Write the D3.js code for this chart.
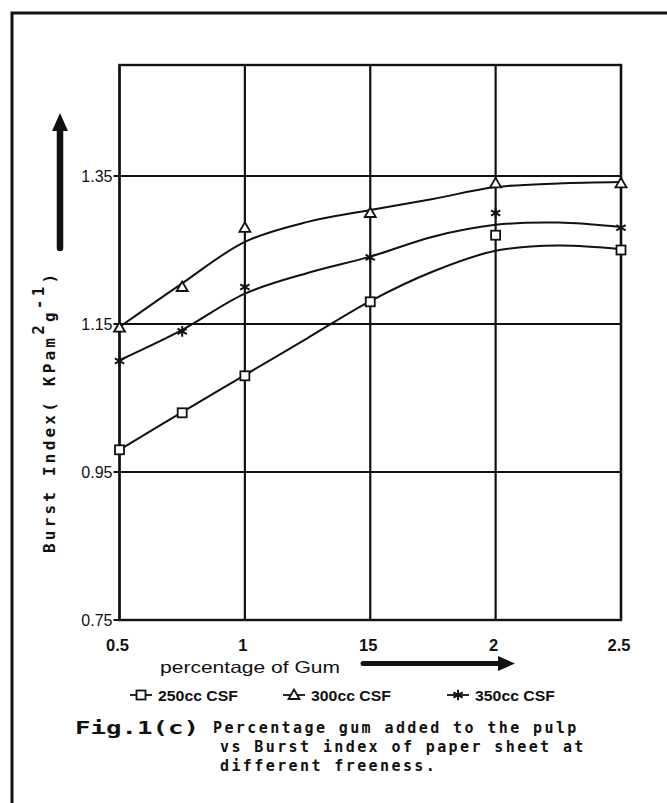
<!DOCTYPE html>
<html>
<head>
<meta charset="utf-8">
<script src="https://cdn.jsdelivr.net/npm/d3@7/dist/d3.min.js"></script>
<style>
  html, body { margin: 0; padding: 0; background: #fff; }
  svg { display: block; }
  .tick-lbl { font-family: "Liberation Sans", Arial, sans-serif; font-size: 16px; fill: #111; }
  .mono { font-family: "DejaVu Sans Mono", "Liberation Mono", monospace; font-weight: bold; fill: #111; }
</style>
</head>
<body>
<div id="chart"></div>
<script>
// measured points (percentage of gum vs burst index)
var gumPct = [0.5, 0.75, 1, 1.5, 2, 2.5];
var csf250 = [0.98, 1.03, 1.08, 1.18, 1.27, 1.25];
var csf300 = [1.145, 1.20, 1.28, 1.30, 1.34, 1.34];
var csf350 = [1.10, 1.14, 1.20, 1.24, 1.30, 1.28];

// fitted curves
var fitX = [0.5, 0.75, 1, 1.25, 1.5, 1.75, 2, 2.25, 2.5];
var fit250 = [0.980, 1.031, 1.081, 1.131, 1.181, 1.221, 1.249, 1.256, 1.251];
var fit300 = [1.146, 1.205, 1.261, 1.288, 1.304, 1.319, 1.335, 1.340, 1.342];
var fit350 = [1.101, 1.142, 1.191, 1.219, 1.241, 1.268, 1.284, 1.287, 1.281];

// axis ticks
var xTicks = [0.5, 1, 1.5, 2, 2.5];
var xTickLabels = ["0.5", "1", "15", "2", "2.5"];
var yTicks = [0.75, 0.95, 1.15, 1.35];
var yTickLabels = ["0.75", "0.95", "1.15", "1.35"];

var seriesNames = ["250cc CSF", "300cc CSF", "350cc CSF"];
var seriesShapes = ["square", "triangle", "star"];

var W = 667, H = 803;
var plot = { left: 119.5, right: 621, top: 65, bottom: 620 };
var ink = "#111";

var svg = d3.select("#chart").append("svg")
  .attr("width", W).attr("height", H);

svg.append("rect").attr("width", W).attr("height", H).attr("fill", "#fff");

// outer border of the scanned page
svg.append("path")
  .attr("d", "M12," + H + " V13 H" + W)
  .attr("fill", "none").attr("stroke", ink).attr("stroke-width", 3);

var x = d3.scaleLinear().domain([0.5, 2.5]).range([plot.left, plot.right]);
var y = d3.scaleLinear().domain([0.75, 1.5]).range([plot.bottom, plot.top]);

// grid
var g = svg.append("g");
g.selectAll(".vgrid").data(xTicks).enter().append("line")
  .attr("x1", function(d) { return x(d); }).attr("x2", function(d) { return x(d); })
  .attr("y1", plot.top).attr("y2", plot.bottom)
  .attr("stroke", ink).attr("stroke-width", 2.2);
g.selectAll(".hgrid").data(yTicks).enter().append("line")
  .attr("x1", plot.left - 6).attr("x2", plot.right)
  .attr("y1", function(d) { return y(d); }).attr("y2", function(d) { return y(d); })
  .attr("stroke", ink).attr("stroke-width", 2.2);
g.append("rect")
  .attr("x", plot.left).attr("y", plot.top)
  .attr("width", plot.right - plot.left).attr("height", plot.bottom - plot.top)
  .attr("fill", "none").attr("stroke", ink).attr("stroke-width", 2.4);

// tick labels
svg.selectAll(".ylbl").data(yTicks).enter().append("text")
  .attr("class", "tick-lbl")
  .attr("x", plot.left - 7)
  .attr("y", function(d) { return y(d) + 6; })
  .attr("text-anchor", "end")
  .text(function(d, i) { return yTickLabels[i]; });

svg.selectAll(".xlbl").data(xTicks).enter().append("text")
  .attr("class", "tick-lbl")
  .attr("x", function(d) { return x(d) - 2; })
  .attr("y", 651)
  .attr("text-anchor", "middle")
  .style("font-size", "16.5px")
  .style("font-weight", "bold")
  .text(function(d, i) { return xTickLabels[i]; });

// fitted curves
var fits = [fit250, fit300, fit350];
var line = d3.line()
  .x(function(d) { return x(d[0]); })
  .y(function(d) { return y(d[1]); })
  .curve(d3.curveCatmullRom);

fits.forEach(function(f) {
  svg.append("path")
    .datum(fitX.map(function(v, i) { return [v, f[i]]; }))
    .attr("d", line)
    .attr("fill", "none").attr("stroke", ink).attr("stroke-width", 2);
});

// markers
function marker(sel, shape) {
  if (shape === "square") {
    sel.append("rect").attr("x", -4.5).attr("y", -4.5).attr("width", 9).attr("height", 9)
      .attr("fill", "#fff").attr("stroke", ink).attr("stroke-width", 1.8);
  } else if (shape === "triangle") {
    sel.append("path").attr("d", "M0,-5.5 L5.5,4 L-5.5,4 Z")
      .attr("fill", "#fff").attr("stroke", ink).attr("stroke-width", 1.8);
  } else {
    sel.append("path").attr("d", d3.symbol().type(d3.symbolAsterisk).size(80)())
      .attr("fill", "none").attr("stroke", ink).attr("stroke-width", 2);
  }
}

[csf250, csf300, csf350].forEach(function(vals, s) {
  vals.forEach(function(v, i) {
    var m = svg.append("g").attr("transform", "translate(" + x(gumPct[i]) + "," + y(v) + ")");
    marker(m, seriesShapes[s]);
  });
});

// y axis title, rotated
var yt = svg.append("text")
  .attr("class", "mono")
  .attr("transform", "translate(55,553) rotate(-90)")
  .style("font-size", "16px")
  .style("letter-spacing", "3.2px");
yt.append("tspan").text("Burst Index( KPam");
yt.append("tspan").attr("dy", -11).text("2");
yt.append("tspan").attr("dy", 11).text("g");
yt.append("tspan").attr("dy", -11).text("-1");
yt.append("tspan").attr("dy", 11).text(")");

// up arrow above y title
svg.append("line").attr("x1", 60).attr("x2", 60).attr("y1", 248).attr("y2", 126)
  .attr("stroke", ink).attr("stroke-width", 6.5).attr("stroke-linecap", "round");
svg.append("path").attr("d", "M60,113 L68,131 L52,131 Z").attr("fill", ink);

// x axis title and arrow
svg.append("text").attr("class", "tick-lbl")
  .attr("x", 160).attr("y", 673)
  .style("font-size", "16.5px")
  .attr("textLength", 180).attr("lengthAdjust", "spacingAndGlyphs")
  .text("percentage of Gum");
svg.append("line").attr("x1", 363).attr("x2", 500).attr("y1", 663.5).attr("y2", 663.5)
  .attr("stroke", ink).attr("stroke-width", 5).attr("stroke-linecap", "round");
svg.append("path").attr("d", "M515,663.5 L498,656 L498,671 Z").attr("fill", ink);

// legend
var legX = [141, 294, 458];
seriesNames.forEach(function(name, i) {
  var lg = svg.append("g").attr("transform", "translate(" + legX[i] + ",695)");
  lg.append("line").attr("x1", -11).attr("x2", 11).attr("stroke", ink).attr("stroke-width", 1.8);
  marker(lg, seriesShapes[i]);
  lg.append("text").attr("class", "tick-lbl")
    .attr("x", 17).attr("y", 5.5)
    .style("font-size", "15px").style("font-weight", "bold")
    .attr("textLength", 80).attr("lengthAdjust", "spacingAndGlyphs")
    .text(name);
});

// caption
var cap = svg.append("g").attr("class", "mono").style("font-size", "15px").style("letter-spacing", "2.4px");
cap.append("text").attr("x", 75).attr("y", 734)
  .style("font-size", "18px").style("letter-spacing", "0px")
  .attr("textLength", 124).attr("lengthAdjust", "spacingAndGlyphs")
  .text("Fig.1(c)");
cap.append("text").attr("x", 213).attr("y", 733).text("Percentage gum added to the pulp");
cap.append("text").attr("x", 220).attr("y", 752).text("vs Burst index of paper sheet at");
cap.append("text").attr("x", 220).attr("y", 771).text("different freeness.");
</script>
</body>
</html>
